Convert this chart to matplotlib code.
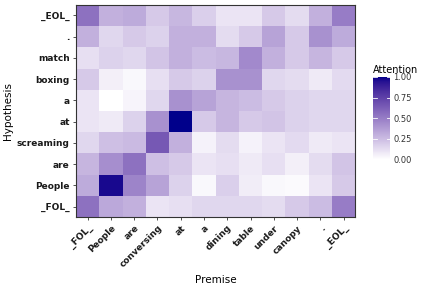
import numpy as np
import matplotlib
matplotlib.use("Agg")
import matplotlib.pyplot as plt
from matplotlib.colors import ListedColormap

premise = ["_FOL_", "People", "are", "conversing", "at", "a", "dining",
           "table", "under", "canopy", ".", "_EOL_"]
hypothesis = ["_FOL_", "People", "are", "screaming", "at", "a", "boxing",
              "match", ".", "_EOL_"]

# attention rows, bottom (_FOL_) to top (_EOL_)
att_fol = [0.55, 0.33, 0.30, 0.10, 0.12, 0.15, 0.15, 0.15, 0.13, 0.20, 0.25, 0.50]
att_people = [0.32, 0.97, 0.47, 0.35, 0.17, 0.03, 0.18, 0.07, 0.03, 0.02, 0.10, 0.20]
att_are = [0.28, 0.43, 0.55, 0.24, 0.20, 0.10, 0.12, 0.08, 0.12, 0.06, 0.13, 0.22]
att_screaming = [0.15, 0.24, 0.26, 0.65, 0.30, 0.05, 0.13, 0.05, 0.10, 0.14, 0.08, 0.10]
att_at = [0.10, 0.08, 0.17, 0.42, 1.00, 0.20, 0.28, 0.20, 0.22, 0.17, 0.15, 0.15]
att_a = [0.10, 0.00, 0.04, 0.15, 0.42, 0.35, 0.28, 0.25, 0.20, 0.17, 0.15, 0.15]
att_boxing = [0.20, 0.06, 0.03, 0.12, 0.20, 0.17, 0.42, 0.42, 0.15, 0.13, 0.08, 0.14]
att_match = [0.12, 0.17, 0.15, 0.22, 0.30, 0.25, 0.27, 0.45, 0.30, 0.20, 0.28, 0.20]
att_dot = [0.30, 0.15, 0.20, 0.17, 0.30, 0.30, 0.13, 0.20, 0.35, 0.20, 0.42, 0.32]
att_eol = [0.55, 0.30, 0.32, 0.20, 0.27, 0.18, 0.10, 0.10, 0.20, 0.13, 0.30, 0.50]


def srgb_to_lab(rgb):
    c = np.asarray(rgb, float)
    c = np.where(c <= 0.04045, c / 12.92, ((c + 0.055) / 1.055) ** 2.4)
    m = np.array([[0.4124, 0.3576, 0.1805],
                  [0.2126, 0.7152, 0.0722],
                  [0.0193, 0.1192, 0.9505]])
    xyz = m @ c / np.array([0.95047, 1.0, 1.08883])
    f = np.where(xyz > 0.008856, np.cbrt(xyz), 7.787 * xyz + 16 / 116)
    return np.array([116 * f[1] - 16, 500 * (f[0] - f[1]), 200 * (f[1] - f[2])])


def lab_to_srgb(lab):
    L, a, b = lab
    fy = (L + 16) / 116
    fx = fy + a / 500
    fz = fy - b / 200
    f = np.array([fx, fy, fz])
    xyz = np.where(f ** 3 > 0.008856, f ** 3, (f - 16 / 116) / 7.787)
    xyz = xyz * np.array([0.95047, 1.0, 1.08883])
    m = np.array([[3.2406, -1.5372, -0.4986],
                  [-0.9689, 1.8758, 0.0415],
                  [0.0557, -0.2040, 1.0570]])
    c = m @ xyz
    c = np.where(c <= 0.0031308, 12.92 * c, 1.055 * np.clip(c, 0, None) ** (1 / 2.4) - 0.055)
    return np.clip(c, 0, 1)


# white -> darkblue gradient interpolated in Lab (ggplot style)
lo = srgb_to_lab([1, 1, 1])
hi = srgb_to_lab([0, 0, 0x8B / 255])
cmap = ListedColormap([lab_to_srgb(lo + t * (hi - lo)) for t in np.linspace(0, 1, 256)])

data = np.array([att_fol, att_people, att_are, att_screaming, att_at, att_a,
                 att_boxing, att_match, att_dot, att_eol])

fig = plt.figure(figsize=(4.27, 2.85), dpi=100)
ax = fig.add_axes([0.178, 0.238, 0.654, 0.745])
mesh = ax.pcolormesh(np.arange(len(premise) + 1) - 0.5,
                     np.arange(len(hypothesis) + 1) - 0.5,
                     data, cmap=cmap, vmin=0, vmax=1)
ax.set_xlim(-0.5, len(premise) - 0.5)
ax.set_ylim(-0.5, len(hypothesis) - 0.5)
ax.set_xticks(range(len(premise)))
ax.set_xticklabels(premise, rotation=45, ha="right", rotation_mode="anchor",
                   fontsize=6.5, fontweight="bold", color="#1a1a1a")
ax.set_yticks(range(len(hypothesis)))
ax.set_yticklabels(hypothesis, fontsize=6.5, fontweight="bold", color="#1a1a1a")
ax.tick_params(length=2.5, width=0.6, color="#333333", pad=2)
for s in ax.spines.values():
    s.set_color("#333333")
    s.set_linewidth(0.8)
ax.set_xlabel("Premise", fontsize=7.5, labelpad=4)
ax.set_ylabel("Hypothesis", fontsize=7.5, labelpad=3)

cax = fig.add_axes([0.874, 0.44, 0.04, 0.29])
cb = fig.colorbar(mesh, cax=cax, ticks=[0, 0.25, 0.5, 0.75, 1.0])
cb.outline.set_visible(False)
cb.ax.set_yticklabels(["0.00", "0.25", "0.50", "0.75", "1.00"])
cb.ax.tick_params(labelsize=6, length=0, pad=2, colors="#333333")
for v in [0, 0.25, 0.5, 0.75, 1.0]:
    cax.plot([0, 0.2], [v, v], color="white", lw=0.6)
    cax.plot([0.8, 1.0], [v, v], color="white", lw=0.6)
cax.set_title("Attention", fontsize=7, loc="left", pad=3)

fig.savefig("out.png", dpi=100)
